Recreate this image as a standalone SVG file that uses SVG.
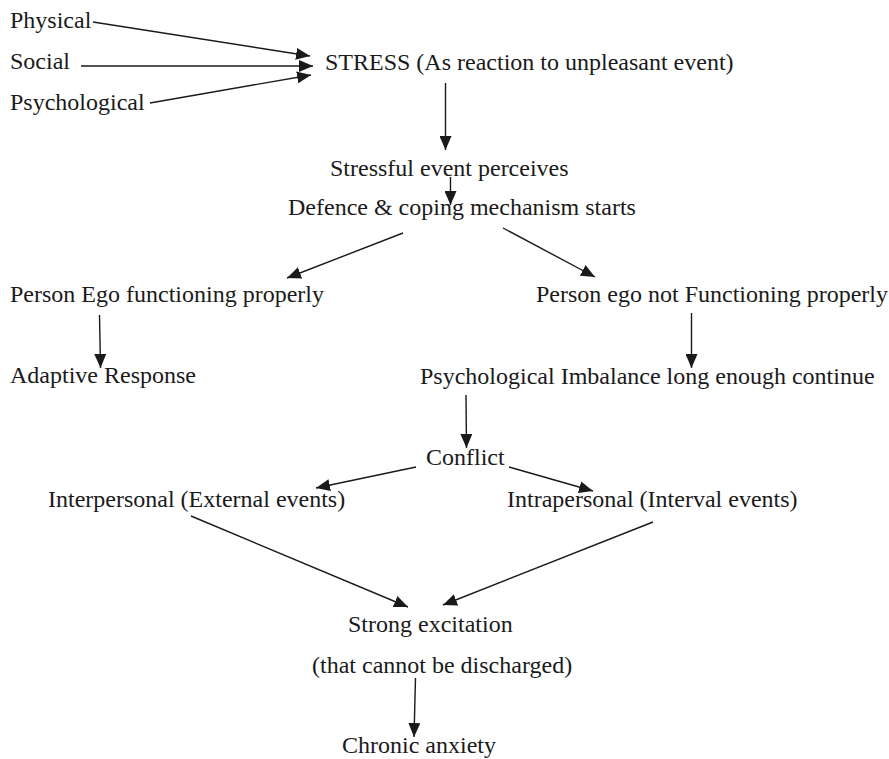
<svg xmlns="http://www.w3.org/2000/svg" width="889" height="759" viewBox="0 0 889 759">
<style>
text{font-family:"Liberation Serif","Times New Roman",serif;font-size:24px;fill:#1a1a1a}
.c line{stroke:#1a1a1a;stroke-width:1.4;marker-end:url(#ah)}
</style>
<defs>
<marker id="ah" markerUnits="userSpaceOnUse" markerWidth="14" markerHeight="12" viewBox="0 0 14 12" refX="14" refY="6" orient="auto">
<path d="M0,0 L14,6 L0,12 z" fill="#1a1a1a"/>
</marker>
</defs>
<rect width="889" height="759" fill="#fff"/>
<g id="physical"><text x="10" y="28">Physical</text></g>
<g id="social"><text x="10" y="69">Social</text></g>
<g id="psychological"><text x="10" y="110">Psychological</text></g>
<g id="stress"><text x="325" y="70">STRESS (As reaction to unpleasant event)</text></g>
<g id="perceives"><text x="330" y="176">Stressful event perceives</text></g>
<g id="defence"><text x="288" y="215">Defence &amp; coping mechanism starts</text></g>
<g id="ego-ok"><text x="10" y="302">Person Ego functioning properly</text></g>
<g id="ego-not"><text x="536" y="302">Person ego not Functioning properly</text></g>
<g id="adaptive"><text x="10" y="383">Adaptive Response</text></g>
<g id="imbalance"><text x="420" y="384">Psychological Imbalance long enough continue</text></g>
<g id="conflict"><text x="426" y="465">Conflict</text></g>
<g id="interpersonal"><text x="48" y="507">Interpersonal (External events)</text></g>
<g id="intrapersonal"><text x="507" y="507">Intrapersonal (Interval events)</text></g>
<g id="excitation"><text x="348" y="632">Strong excitation</text><text x="312" y="673">(that cannot be discharged)</text></g>
<g id="anxiety"><text x="342" y="753">Chronic anxiety</text></g>
<g id="connectors" class="c">
<line x1="93" y1="22" x2="310" y2="56"/>
<line x1="81" y1="66" x2="313" y2="66"/>
<line x1="150" y1="103" x2="311" y2="75"/>
<line x1="445.5" y1="83" x2="445.5" y2="150"/>
<line x1="450.5" y1="177" x2="450.5" y2="205"/>
<line x1="403" y1="233" x2="287" y2="278"/>
<line x1="503" y1="228" x2="595" y2="277"/>
<line x1="99.5" y1="315" x2="100.5" y2="368"/>
<line x1="691.5" y1="313" x2="691.5" y2="368"/>
<line x1="466" y1="395" x2="466.5" y2="448"/>
<line x1="416" y1="467" x2="316" y2="488"/>
<line x1="509" y1="467" x2="593" y2="491"/>
<line x1="191" y1="516" x2="408" y2="607"/>
<line x1="653" y1="522" x2="443" y2="605"/>
<line x1="415.5" y1="678" x2="414" y2="737"/>
</g>
</svg>
